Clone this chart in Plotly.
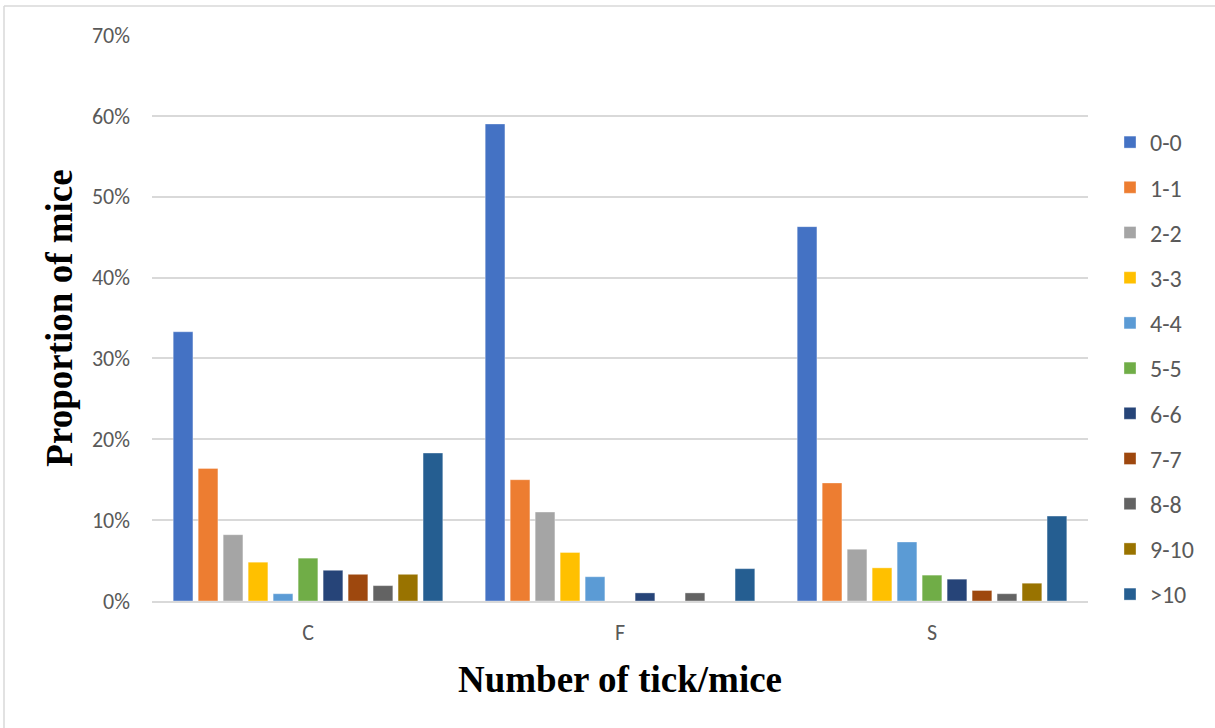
import plotly.graph_objects as go

# Site groups on the category axis
groups = ["C", "F", "S"]

# Tick-load classes (series) and their colours
classes = ["0-0", "1-1", "2-2", "3-3", "4-4", "5-5", "6-6", "7-7", "8-8", "9-10", ">10"]
colors = ["#4472C4", "#ED7D31", "#A5A5A5", "#FFC000", "#5B9BD5", "#70AD47",
          "#264478", "#9E480E", "#636363", "#997300", "#255E91"]

# Proportion of mice in each class, per group (C, F, S)
p_0_0 = [0.333, 0.590, 0.463]
p_1_1 = [0.164, 0.150, 0.146]
p_2_2 = [0.082, 0.110, 0.064]
p_3_3 = [0.048, 0.060, 0.041]
p_4_4 = [0.009, 0.030, 0.073]
p_5_5 = [0.053, 0.000, 0.032]
p_6_6 = [0.038, 0.010, 0.027]
p_7_7 = [0.033, 0.000, 0.013]
p_8_8 = [0.019, 0.010, 0.009]
p_9_10 = [0.033, 0.000, 0.022]
p_gt10 = [0.183, 0.040, 0.105]

series = [p_0_0, p_1_1, p_2_2, p_3_3, p_4_4, p_5_5, p_6_6, p_7_7, p_8_8, p_9_10, p_gt10]

y_ticks = [0, 0.1, 0.2, 0.3, 0.4, 0.5, 0.6, 0.7]

W, H = 1215, 728
M_L, M_R, M_T, M_B = 152, 127, 35, 127
PW, PH = W - M_L - M_R, H - M_T - M_B

fig = go.Figure()
for name, vals, col in zip(classes, series, colors):
    fig.add_trace(go.Bar(
        x=groups, y=vals, name=name, legendgroup=name,
        marker=dict(color=col, line=dict(width=0.6, color="rgba(255,255,255,0.6)")),
    ))

tick_font = dict(family="Carlito, Lato, sans-serif", size=22, color="#595959")
legend_font = dict(family="Carlito, Lato, sans-serif", size=24, color="#595959")
title_font = dict(family="Liberation Serif, Times New Roman, serif", size=37, color="#000000")


def px_x(v):
    return (v - M_L) / PW


def px_y(v):
    return (H - M_B - v) / PH


# Light frame around the chart (top and left edges)
frame = dict(color="#D9D9D9", width=1.5)
shapes = [
    dict(type="line", xref="paper", yref="paper", x0=px_x(4), x1=px_x(W + 5),
         y0=px_y(6), y1=px_y(6), line=frame),
    dict(type="line", xref="paper", yref="paper", x0=px_x(4), x1=px_x(4),
         y0=px_y(6), y1=px_y(H + 5), line=frame),
]

fig.update_layout(
    width=W, height=H,
    margin=dict(l=M_L, r=M_R, t=M_T, b=M_B),
    paper_bgcolor="white", plot_bgcolor="white",
    barmode="group", bargap=0.119, bargroupgap=0.21,
    shapes=shapes,
    showlegend=True,
    legend=dict(
        x=px_x(1110), y=px_y(120), xanchor="left", yanchor="top",
        font=legend_font, tracegroupgap=11, itemclick=False,
        bgcolor="rgba(0,0,0,0)",
    ),
    xaxis=dict(
        tickfont=tick_font, showgrid=False, ticks="",
        showline=True, linecolor="#D9D9D9", linewidth=1.5,
        ticklabelstandoff=11,
        title=dict(text="<b>Number of tick/mice</b>", font=title_font, standoff=21),
    ),
    yaxis=dict(
        range=[0, 0.7], tickvals=y_ticks, tickformat=".0%",
        tickfont=tick_font, showgrid=True, gridcolor="#D9D9D9", gridwidth=1.5,
        zeroline=False, showline=False, ticks="", ticklabelstandoff=21,
        title=dict(text="<b>Proportion of mice</b>", font=title_font, standoff=8),
    ),
)

fig.write_html("out.html")
